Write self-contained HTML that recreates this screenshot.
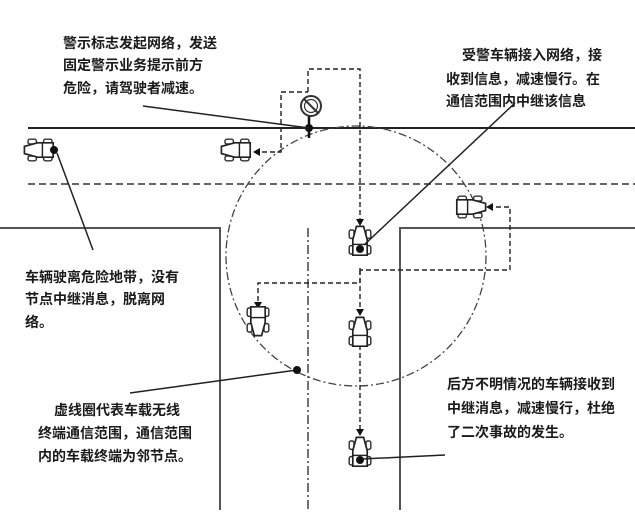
<!DOCTYPE html>
<html><head><meta charset="utf-8"><style>
html,body{margin:0;padding:0;background:#fff;}
svg{display:block}
text{font-family:"Liberation Sans","Noto Sans CJK SC",sans-serif;font-size:14px;font-weight:bold;fill:#1a1a1a;}
</style></head><body>
<svg width="635" height="525" viewBox="0 0 635 525" xmlns="http://www.w3.org/2000/svg">
<defs>
<g id="car">
 <rect x="-9" y="-10" width="4" height="7" rx="1.5" fill="#fff" stroke="#333" stroke-width="1.2"/>
 <rect x="5" y="-10" width="4" height="7" rx="1.5" fill="#fff" stroke="#333" stroke-width="1.2"/>
 <rect x="-9" y="3" width="4" height="7" rx="1.5" fill="#fff" stroke="#333" stroke-width="1.2"/>
 <rect x="5" y="3" width="4" height="7" rx="1.5" fill="#fff" stroke="#333" stroke-width="1.2"/>
 <path d="M-3,-13 L3,-13 L6,-2 L6,11 L-6,11 L-6,-2 Z" fill="#fff" stroke="#222" stroke-width="1.4"/>
 <line x1="-6" y1="2" x2="6" y2="2" stroke="#222" stroke-width="1.2"/>
</g>
</defs>
<line x1="28" y1="128" x2="635" y2="128" stroke="#222" stroke-width="2"/>
<line x1="28" y1="184" x2="635" y2="184" stroke="#333" stroke-width="1.6" stroke-dasharray="7,4"/>
<polyline points="0,228 220,228 220,510" fill="none" stroke="#555" stroke-width="2"/>
<polyline points="635,228 400,228 400,510" fill="none" stroke="#555" stroke-width="2"/>
<line x1="308" y1="228" x2="308" y2="510" stroke="#444" stroke-width="1.5" stroke-dasharray="9,3,2,3"/>
<circle cx="356" cy="256" r="130" fill="none" stroke="#444" stroke-width="1.3" stroke-dasharray="8,3,2,3"/>
<g fill="none" stroke="#222" stroke-width="1.4" stroke-dasharray="5,3">
<polyline points="281,148 281,92 308,92"/>
<polyline points="281,150 281,152 262,152"/>
<polyline points="308,92 308,69 360,69 360,222"/>
<polyline points="360,268 360,270 510,270 510,207 490,207"/>
<polyline points="360,270 360,283 258,283 258,305"/>
<polyline points="360,270 360,312"/>
<polyline points="360,345 360,432"/>
</g>
<g fill="#111">
<polygon points="253,152 260,148 260,156"/>
<polygon points="486,207 493,203 493,211"/>
<polygon points="360,226 356,219 364,219"/>
<polygon points="360,316 356,309 364,309"/>
<polygon points="360,436 356,429 364,429"/>
<polygon points="258,309 254,302 262,302"/>
</g>
<line x1="309" y1="115" x2="309" y2="138" stroke="#111" stroke-width="2.5"/>
<circle cx="311" cy="106" r="10" fill="#fff" stroke="#333" stroke-width="2"/>
<circle cx="311" cy="106" r="6.5" fill="none" stroke="#333" stroke-width="1.2"/>
<line x1="304" y1="99" x2="318" y2="113" stroke="#333" stroke-width="2"/>
<circle cx="309" cy="128" r="4" fill="#111"/>
<g transform="translate(40,150) rotate(-90) scale(1.2)"><use href="#car"/></g>
<circle cx="54" cy="150" r="4" fill="#111"/>
<g transform="translate(237,150) rotate(-90) scale(1.2)"><use href="#car"/></g>
<g transform="translate(470,207) rotate(90) scale(1.2)"><use href="#car"/></g>
<g transform="translate(360,242) scale(1.2)"><use href="#car"/></g>
<circle cx="360" cy="249" r="4" fill="#111"/>
<g transform="translate(258,320) rotate(180) scale(1.2)"><use href="#car"/></g>
<g transform="translate(360,333) scale(1.2)"><use href="#car"/></g>
<g transform="translate(360,453) scale(1.2)"><use href="#car"/></g>
<circle cx="360" cy="460" r="4" fill="#111"/>
<g stroke="#222" stroke-width="1.5">
<line x1="143" y1="106" x2="309" y2="128"/>
<line x1="515" y1="103" x2="364" y2="245"/>
<line x1="57" y1="153" x2="93" y2="250"/>
<line x1="130" y1="393" x2="297" y2="370"/>
<line x1="362" y1="459" x2="445" y2="455"/>
</g>
<circle cx="297" cy="370" r="4" fill="#111"/>
<text x="63" y="48">警示标志发起网络，发送</text>
<text x="63" y="70">固定警示业务提示前方</text>
<text x="63" y="93">危险，请驾驶者减速。</text>
<text x="462" y="60">受警车辆接入网络，接</text>
<text x="446" y="84">收到信息，减速慢行。在</text>
<text x="446" y="106">通信范围内中继该信息</text>
<text x="25" y="282">车辆驶离危险地带，没有</text>
<text x="25" y="304">节点中继消息，脱离网</text>
<text x="25" y="327">络。</text>
<text x="54" y="415">虚线圈代表车载无线</text>
<text x="38" y="438">终端通信范围，通信范围</text>
<text x="38" y="461">内的车载终端为邻节点。</text>
<text x="447" y="389">后方不明情况的车辆接收到</text>
<text x="447" y="413">中继消息，减速慢行，杜绝</text>
<text x="447" y="437">了二次事故的发生。</text>
</svg>
</body></html>
